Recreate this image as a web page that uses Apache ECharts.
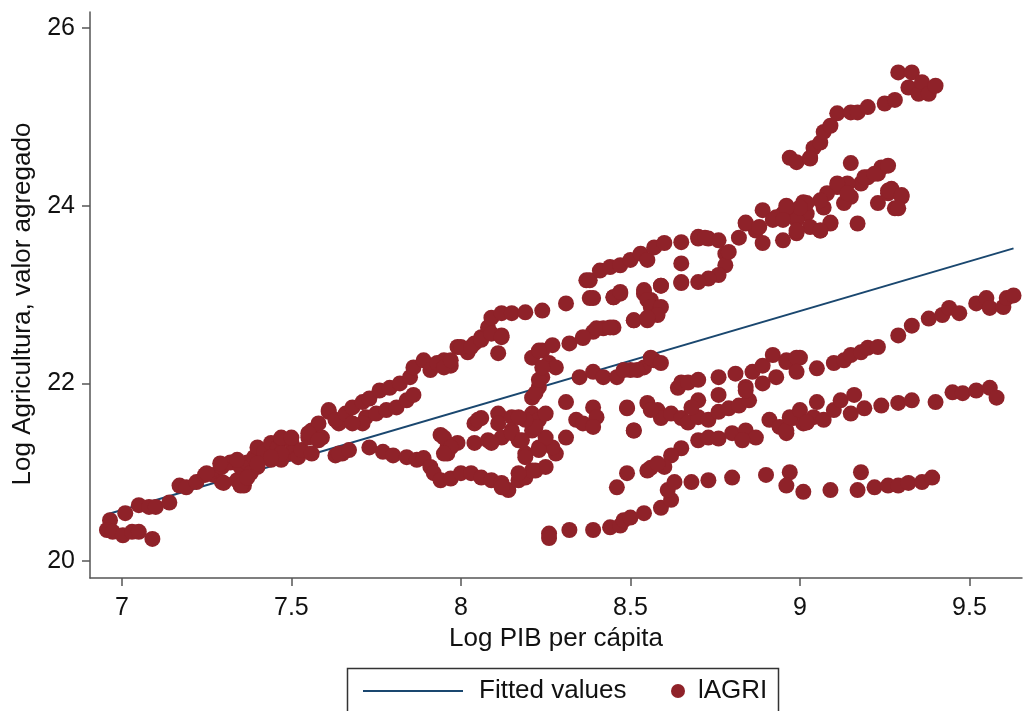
<!DOCTYPE html>
<html><head><meta charset="utf-8">
<script src="https://cdn.jsdelivr.net/npm/echarts@6/dist/echarts.min.js"></script>
<style>html,body{margin:0;padding:0;background:#fff}#c{width:1026px;height:711px}</style>
</head><body><div id="c"></div>
<script>
const xTicks = [7, 7.5, 8, 8.5, 9, 9.5];
const yTicks = [20, 22, 24, 26];
const fittedX = [6.96, 9.63];
const fittedY = [20.53, 23.52];

const lowerLeft = [[6.965,20.46],[6.956,20.35],[6.973,20.33],[7.003,20.29],[7.01,20.54],[7.03,20.33],[7.05,20.33],[7.09,20.25],[7.05,20.63],[7.08,20.61],[7.10,20.61],[7.14,20.66],[7.17,20.85],[7.19,20.83],[7.22,20.89],[7.245,20.97],[7.27,20.97],[7.295,20.89],[7.295,21.06],[7.32,21.11],[7.34,20.91],[7.36,20.85],[7.35,21.06],[7.37,21.11],[7.39,21.17],[7.40,21.28],[7.42,21.23],[7.44,21.33],[7.46,21.28],[7.47,21.38],[7.50,21.34],[7.50,21.21],[7.47,21.14],[7.44,21.14],[7.52,21.17],[7.53,21.25],[7.55,21.39],[7.56,21.47],[7.58,21.55],[7.59,21.39],[7.61,21.68],[7.63,21.19],[7.40,21.06],[7.38,20.99],
 [7.25,20.99],[7.29,21.10],[7.30,20.88],[7.34,21.14],[7.35,20.85],[7.37,20.94],[7.40,21.10],[7.47,21.39],[7.50,21.39],[7.47,21.21],[7.55,21.44],[7.58,21.36],[7.56,21.21],[7.64,21.55],[7.65,21.21],[7.44,21.17]];

const upperStrand = [[7.61,21.70],[7.63,21.59],[7.66,21.66],[7.68,21.73],[7.71,21.79],[7.73,21.83],[7.76,21.92],[7.79,21.95],[7.82,22.00],[7.85,22.07],[7.86,22.18],[7.89,22.26],[7.91,22.15],[7.95,22.26],[7.97,22.20],[7.99,22.41],[8.02,22.35],[8.04,22.45],[8.06,22.52],[8.08,22.63],[8.09,22.74],[8.12,22.79],[8.15,22.79],[8.19,22.80],[8.24,22.82],[8.12,22.54],[8.11,22.34],[8.31,22.90],[8.38,22.96],[8.45,22.97],[8.47,23.01],[8.54,23.01],[8.56,22.94]];

const innerLoop = [[7.72,21.62],[7.75,21.66],[7.78,21.70],[7.81,21.73],[7.84,21.81],[7.86,21.87],[7.71,21.55],[7.68,21.55],[7.93,22.23],[7.95,22.18],[7.97,22.26],[8.00,22.41],[8.03,22.41],[8.06,22.49],[8.09,22.56],[8.12,22.52]];

const topBand = [[8.37,23.16],[8.38,23.16],[8.41,23.27],[8.44,23.31],[8.47,23.33],[8.50,23.39],[8.53,23.46],[8.55,23.39],[8.57,23.53],[8.60,23.58],[8.65,23.59],[8.70,23.63],[8.73,23.63],[8.76,23.61],[8.78,23.46],[8.78,23.33],[8.76,23.22],[8.73,23.18],[8.70,23.14],[8.65,23.14],[8.59,23.10],[8.65,23.35],[8.82,23.64],[8.84,23.80],[8.87,23.72],[8.89,23.58],[8.89,23.95],[8.92,23.84],[8.95,23.91],[8.95,23.61],[8.99,23.87],[8.99,23.69],[9.02,23.91],[9.06,23.72],[9.07,23.98],
 [8.79,23.48],[8.84,23.81],[8.88,23.76],[8.93,23.87],[8.96,24.00],[8.99,23.84],[9.01,24.04],[9.03,23.76],[9.09,23.81],[8.70,23.65],[8.72,23.64]];

const secondBand = [[8.39,22.96],[8.45,22.97],[8.47,23.03],[8.54,23.05],[8.55,22.94],[8.56,22.86],[8.59,22.86],[8.58,22.77],[8.51,22.71],[8.55,22.71],[8.59,23.10],[8.65,23.13],
 [8.32,22.45],[8.36,22.51],[8.39,22.58],[8.42,22.62],[8.45,22.63],[8.51,22.71],[8.55,22.74],[8.36,22.52],[8.40,22.62],[8.44,22.63]];

const risingMiddle = [[8.21,22.29],[8.24,22.37],[8.27,22.43],[8.26,22.23],[8.28,22.18],[8.24,22.07],[8.23,21.96],[8.21,21.84],[8.35,22.07],[8.39,22.13],[8.42,22.07],[8.46,22.07],[8.50,22.15],[8.54,22.18],[8.57,22.26],[8.48,22.15],[8.52,22.15],[8.56,22.29],[8.59,22.23],[8.22,21.89],[8.23,22.04],[8.24,22.18],[8.23,22.37]];

const rightUpper = [[8.64,21.95],[8.65,22.01],[8.67,22.01],[8.70,22.04],[8.76,22.07],[8.81,22.11],[8.86,22.13],[8.89,22.20],[8.92,22.32],[8.96,22.26],[9.00,22.29],[9.05,22.17],[8.84,21.96],[8.89,22.00],[8.93,22.07],[8.96,22.24],[8.99,22.29],[8.99,22.13],[9.10,22.23],[9.13,22.26],[9.15,22.32],[9.18,22.35],[9.20,22.40],[9.23,22.41],[9.29,22.54],[9.33,22.65],[9.38,22.73],[9.42,22.77],[9.44,22.85],[9.47,22.79],[9.52,22.90],[9.55,22.96],[9.56,22.85],[9.60,22.86],[9.61,22.96],[9.63,22.99]];

const rightMiddle = [[8.49,21.72],[8.55,21.78],[8.58,21.70],[8.59,21.61],[8.62,21.66],[8.65,21.61],[8.67,21.56],[8.70,21.62],[8.70,21.81],[8.68,21.73],[8.73,21.59],[8.76,21.68],[8.76,21.87],[8.79,21.72],[8.82,21.75],[8.85,21.81],[8.84,21.92],[8.91,21.59],[8.94,21.51],[8.96,21.44],[8.98,21.61],[9.01,21.55],[9.05,21.79],[9.04,21.62],[8.96,21.47],[8.97,21.62],[9.00,21.70],[9.02,21.56],[9.07,21.59],[9.10,21.70],[9.12,21.81],[9.15,21.66],[9.16,21.87],[9.19,21.72],[9.24,21.75],[9.29,21.78],[9.33,21.81],[9.40,21.79],[9.45,21.90],[9.48,21.89],[9.52,21.92],[9.56,21.95],[9.58,21.84]];

const rightLower = [[8.51,21.47],[8.65,21.27],[8.62,21.19],[8.60,21.06],[8.56,21.05],[8.70,21.36],[8.73,21.39],[8.76,21.38],[8.80,21.44],[8.84,21.47],[8.87,21.39],[8.83,21.36],[8.49,20.99],[8.46,20.83],[8.55,21.02],[8.58,21.10]];

const bottomBand = [[8.26,20.31],[8.26,20.26],[8.32,20.35],[8.39,20.35],[8.44,20.38],[8.47,20.40],[8.48,20.46],[8.50,20.49],[8.54,20.54],[8.59,20.60],[8.62,20.69],[8.61,20.80],[8.63,20.89],[8.68,20.89],[8.73,20.91],[8.80,20.94],[8.90,20.97],[8.97,21.00],[8.96,20.85],[9.01,20.78],[9.09,20.80],[9.18,21.00],[9.17,20.80],[9.22,20.83],[9.26,20.85],[9.29,20.85],[9.32,20.88],[9.36,20.89],[9.39,20.94]];

const lowerLoop = [[7.64,21.21],[7.67,21.25],[7.73,21.28],[7.77,21.23],[7.80,21.19],[7.84,21.17],[7.87,21.14],[7.89,21.16],[7.91,21.06],[7.92,20.99],[7.94,20.91],[7.97,20.93],[8.00,20.99],[8.03,20.99],[8.06,20.94],[8.09,20.91],[8.12,20.88],[8.14,20.80],[8.17,20.91],[8.19,20.94],[8.22,21.02],[8.25,21.06],[8.21,21.02],[8.17,20.99],[8.12,20.83]];

const middleCluster = [[7.94,21.42],[7.96,21.28],[7.99,21.33],[8.04,21.55],[8.06,21.61],[8.11,21.66],[8.11,21.55],[8.15,21.62],[8.04,21.33],[8.08,21.36],[8.12,21.39],[8.15,21.47],[8.17,21.36],[8.19,21.21],[7.96,21.21],[8.21,21.66],[8.21,21.47],[8.23,21.28],[8.31,21.79],[8.34,21.59],[8.36,21.55],[8.39,21.73],[8.40,21.62],[8.39,21.51],[8.49,21.73],[8.51,21.47],[8.56,21.70],[8.31,21.39],[8.28,21.21],[8.27,21.28],[8.25,21.39],[8.23,21.59],[8.22,21.51],[8.19,21.59],[8.17,21.62],[8.15,21.44],[8.18,21.36],[8.19,21.17],[8.23,21.25],[8.25,21.66],[8.05,21.59],[8.09,21.33],[7.95,21.39],[7.97,21.28],[7.95,21.21]];

const topStrand = [[8.97,24.54],[8.99,24.49],[9.03,24.54],[9.04,24.65],[9.06,24.71],[9.07,24.83],[9.09,24.90],[9.11,25.04],[9.15,25.05],[9.17,25.05],[9.20,25.11],[9.25,25.15],[9.28,25.19],[9.29,25.50],[9.33,25.50],[9.32,25.33],[9.35,25.26],[9.36,25.39],[9.38,25.26],[9.40,25.35]];

const upperRight = [[9.15,24.48],[9.24,24.43],[9.23,24.36],[9.20,24.32],[9.18,24.25],[9.14,24.25],[9.11,24.21],[9.08,24.14],[9.06,24.06],[9.02,24.03],[9.00,23.98],[8.96,23.98],[9.15,24.10],[9.13,24.03],[9.23,24.03],[9.27,24.19],[9.30,24.10],[9.28,23.97],[9.26,24.14],[9.17,23.80],[9.09,23.80],[9.06,23.72],[8.99,23.72],[8.95,23.84],
 [9.11,24.25],[9.14,24.14],[9.19,24.32],[9.22,24.36],[9.26,24.45],[9.26,24.17],[9.30,24.12],[9.29,23.97],[9.03,24.53]];

const allPoints = [].concat(lowerLeft, upperStrand, innerLoop, topBand, secondBand, risingMiddle, rightUpper, rightMiddle, rightLower, bottomBand, lowerLoop, middleCluster, topStrand, upperRight);
const fitted = fittedX.map((x, i) => [x, fittedY[i]]);

const FONT = 'Liberation Sans, Arial, sans-serif';
const axisColor = '#555';
const chart = echarts.init(document.getElementById('c'), null, {renderer: 'canvas'});
chart.setOption({
  animation: false,
  backgroundColor: '#fff',
  textStyle: {fontFamily: FONT, color: '#111'},
  grid: {left: 90, right: 4, top: 12, bottom: 133, containLabel: false},
  xAxis: {
    type: 'value', min: 6.906, max: 9.655,
    name: 'Log PIB per cápita', nameLocation: 'middle', nameGap: 44,
    nameTextStyle: {fontSize: 26, fontFamily: FONT, color: '#111'},
    axisLine: {show: true, lineStyle: {color: axisColor, width: 1.5}},
    axisTick: {show: true, length: 8, customValues: xTicks, lineStyle: {color: axisColor, width: 1.5}},
    axisLabel: {fontSize: 25, fontFamily: FONT, color: '#111', margin: 18, customValues: xTicks},
    splitLine: {show: false}
  },
  yAxis: {
    type: 'value', min: 19.81, max: 26.18,
    name: 'Log Agricultura, valor agregado', nameLocation: 'middle', nameGap: 54, nameRotate: 90,
    nameTextStyle: {fontSize: 26, fontFamily: FONT, color: '#111', padding: [0, 18, 0, 0]},
    axisLine: {show: true, lineStyle: {color: axisColor, width: 1.5}},
    axisTick: {show: true, length: 8, customValues: yTicks, lineStyle: {color: axisColor, width: 1.5}},
    axisLabel: {fontSize: 25, fontFamily: FONT, color: '#111', margin: 15, customValues: yTicks},
    splitLine: {show: false}
  },
  legend: [
    {data: ['Fitted values'], left: 357, top: 673,
     itemWidth: 100, itemHeight: 14, selectedMode: false,
     itemStyle: {color: 'rgba(0,0,0,0)', borderWidth: 0, opacity: 0},
     textStyle: {fontSize: 26, fontFamily: FONT, color: '#111', padding: [0, 0, 0, 11]}},
    {data: [{name: 'lAGRI', icon: 'circle'}], left: 666, top: 673, itemWidth: 14, itemHeight: 14, selectedMode: false,
     textStyle: {fontSize: 26, fontFamily: FONT, color: '#111', padding: [0, 0, 0, 8]}}
  ],
  graphic: [{type: 'rect', left: 345, top: 666, shape: {width: 431, height: 60},
    style: {fill: 'none', stroke: '#333', lineWidth: 1.5}, silent: true}],
  series: [
    {name: 'Fitted values', type: 'line', data: fitted, showSymbol: false, symbol: 'none',
     lineStyle: {color: '#1a476f', width: 2}, itemStyle: {color: '#1a476f'}, z: 2},
    {name: 'lAGRI', type: 'scatter', data: allPoints, symbol: 'circle', symbolSize: 16,
     itemStyle: {color: '#8f2229', opacity: 1}, z: 3}
  ]
});
</script>
</body></html>
